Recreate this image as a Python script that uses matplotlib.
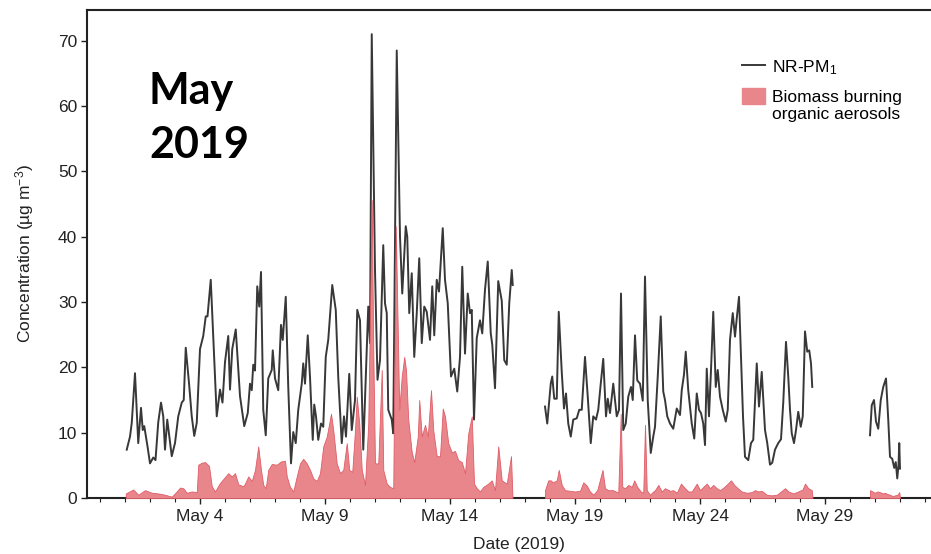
import matplotlib
matplotlib.use('Agg')
import matplotlib.pyplot as plt
import matplotlib.dates as mdates
from matplotlib.lines import Line2D
from matplotlib.patches import Patch, Rectangle
from matplotlib.legend_handler import HandlerPatch
from matplotlib.ticker import FuncFormatter
import numpy as np
import pandas as pd

plt.rcParams['font.family'] = ['Liberation Sans', 'DejaVu Sans']
plt.rcParams['mathtext.fontset'] = 'custom'
plt.rcParams['mathtext.rm'] = 'Liberation Sans'
plt.rcParams['mathtext.it'] = 'Liberation Sans:italic'
plt.rcParams['mathtext.bf'] = 'Liberation Sans:bold'

# NR-PM1: time as fractional day of May, value in ug m-3
pm_day_1 = [1.07, 1.2, 1.27, 1.4, 1.53, 1.64, 1.71, 1.77, 1.9, 2.0, 2.13, 2.22, 2.33, 2.44,
            2.53, 2.6, 2.69, 2.77, 2.87, 3.0, 3.13, 3.27, 3.35, 3.43, 3.56, 3.67, 3.77, 3.87,
            4.0, 4.13, 4.23, 4.3, 4.43, 4.53, 4.67, 4.8, 4.9, 5.0, 5.13, 5.2, 5.29, 5.43,
            5.6, 5.77, 5.91, 6.0, 6.07, 6.13, 6.2, 6.29, 6.37, 6.44, 6.53, 6.63, 6.73, 6.87,
            6.91, 7.0, 7.13, 7.24, 7.31, 7.43, 7.53, 7.64, 7.73, 7.83, 7.93, 8.07, 8.13, 8.2,
            8.31, 8.4, 8.51, 8.57, 8.64, 8.73, 8.84, 8.93, 9.03, 9.13, 9.29, 9.43, 9.53, 9.67,
            9.76, 9.84, 9.97, 10.07, 10.2, 10.29, 10.4, 10.53, 10.73, 10.8, 10.87, 11.0, 11.1,
            11.2, 11.33, 11.4, 11.47, 11.53, 11.67, 11.73, 11.87, 12.0, 12.09, 12.23, 12.29,
            12.37, 12.47, 12.57, 12.67, 12.77, 12.87, 12.97, 13.07, 13.2, 13.29, 13.37, 13.47,
            13.56, 13.71, 13.8, 13.91, 14.04, 14.17, 14.29, 14.4, 14.49, 14.6, 14.71, 14.8,
            14.87, 14.96, 15.07, 15.2, 15.29, 15.4, 15.51, 15.63, 15.69, 15.8, 15.93, 16.07,
            16.17, 16.27, 16.37, 16.47, 16.51]
pm_val_1 = [7.4, 9.4, 11.5, 19.1, 8.4, 13.8, 10.4, 11.0, 7.9, 5.3, 6.2, 5.8, 11.6, 14.6,
            12.5, 7.4, 12.0, 9.5, 6.4, 8.4, 12.5, 14.6, 15.0, 23.0, 17.6, 12.5, 9.5, 11.5,
            22.8, 24.8, 27.8, 27.8, 33.4, 24.8, 12.5, 16.6, 14.6, 20.8, 24.8, 16.6, 22.8, 25.8,
            15.6, 11.0, 13.0, 17.5, 16.5, 20.4, 19.5, 32.4, 29.3, 34.6, 13.5, 9.6, 18.3, 19.6,
            22.6, 18.3, 16.5, 26.5, 24.2, 30.8, 17.0, 5.3, 10.1, 8.4, 13.5, 17.5, 20.6, 17.5,
            24.9, 18.5, 8.9, 14.3, 12.5, 8.9, 11.4, 10.9, 21.6, 24.2, 32.6, 28.8, 18.5, 8.4,
            12.5, 9.4, 19.0, 10.4, 15.0, 28.8, 27.2, 7.4, 29.3, 23.7, 71.0, 34.9, 18.1,
            21.1, 38.7, 29.8, 28.3, 13.5, 12.0, 9.9, 68.5, 40.0, 31.3, 41.6, 40.0,
            28.3, 34.4, 21.6, 28.3, 36.7, 23.7, 29.3, 28.5, 24.2, 32.4, 24.9, 33.4,
            31.6, 41.3, 33.4, 29.8, 18.6, 19.8, 16.3, 21.6, 35.4, 22.1, 31.3, 28.3,
            28.8, 12.0, 24.5, 27.2, 25.2, 31.9, 36.2, 25.2, 23.5, 16.8, 33.2, 30.2,
            21.1, 20.4, 29.8, 34.9, 32.6]

pm_day_2 = [17.8, 17.89, 18.03, 18.09, 18.17, 18.27, 18.35, 18.47, 18.56, 18.64, 18.73, 18.83,
            18.93, 19.07, 19.17, 19.27, 19.4, 19.51, 19.63, 19.73, 19.84, 19.93, 20.03, 20.13,
            20.24, 20.31, 20.4, 20.53, 20.67, 20.76, 20.84, 20.93, 21.03, 21.13, 21.24, 21.31,
            21.4, 21.49, 21.6, 21.71, 21.8, 21.91, 22.03, 22.13, 22.2, 22.31, 22.43, 22.53,
            22.6, 22.69, 22.8, 22.93, 23.07, 23.2, 23.27, 23.36, 23.43, 23.53, 23.67, 23.77,
            23.87, 23.96, 24.04, 24.13, 24.2, 24.27, 24.36, 24.44, 24.53, 24.63, 24.71, 24.8,
            24.91, 25.03, 25.11, 25.2, 25.31, 25.4, 25.47, 25.56, 25.64, 25.72, 25.8, 25.93,
            26.04, 26.13, 26.27, 26.36, 26.47, 26.6, 26.69, 26.8, 26.89, 27.0, 27.13, 27.24,
            27.33, 27.44, 27.53, 27.6, 27.67, 27.76, 27.84, 27.93, 28.03, 28.11, 28.2, 28.29,
            28.37, 28.44, 28.49]
pm_val_2 = [14.0, 11.4, 17.5, 18.6, 15.2, 15.2, 28.5, 19.3, 13.7, 16.0, 11.4, 9.4,
            12.0, 12.2, 13.5, 13.5, 21.6, 15.5, 8.4, 12.5, 12.0, 13.5, 17.5, 21.3,
            12.5, 15.2, 13.0, 17.5, 12.5, 13.5, 31.3, 10.4, 11.4, 15.5, 17.0, 15.0,
            24.9, 18.0, 17.5, 14.9, 33.9, 14.9, 6.9, 9.4, 10.9, 18.6, 27.8, 16.3,
            15.0, 12.5, 11.4, 10.6, 13.7, 12.7, 16.5, 18.9, 22.4, 16.5, 11.4, 9.1,
            16.0, 13.5, 13.0, 11.4, 8.1, 19.8, 12.5, 19.6, 28.5, 17.0, 19.6, 15.5,
            13.5, 11.7, 13.5, 24.2, 28.3, 24.7, 27.5, 30.8, 21.6, 12.5, 6.3, 5.8,
            8.4, 8.9, 20.6, 14.0, 19.3, 10.4, 8.4, 5.1, 5.4, 7.4, 8.4, 9.0,
            14.6, 23.9, 18.6, 13.5, 9.9, 8.4, 10.4, 13.2, 10.9, 12.5, 25.5, 22.4,
            22.6, 20.6, 17.0]

pm_day_3 = [30.8, 30.87, 30.96, 31.04, 31.13, 31.23, 31.33, 31.44, 31.53, 31.6, 31.69, 31.77,
            31.83, 31.89, 31.94, 31.97, 32.0]
pm_val_3 = [9.6, 14.2, 15.0, 11.7, 10.6, 15.0, 17.0, 18.3, 12.0, 6.3, 6.0, 4.6,
            5.5, 3.0, 5.0, 8.4, 4.5]

# biomass burning organic aerosols
bb_day_1 = [1.03, 1.33, 1.53, 1.8, 2.07, 2.33, 2.6, 2.87, 3.07, 3.2, 3.33, 3.47, 3.67, 3.87,
            3.93, 4.07, 4.2, 4.36, 4.47, 4.6, 4.8, 5.13, 5.27, 5.4, 5.53, 5.73, 5.8, 5.93,
            6.07, 6.2, 6.33, 6.44, 6.53, 6.63, 6.73, 6.87, 7.07, 7.24, 7.4, 7.47, 7.6, 7.73,
            7.87, 8.0, 8.13, 8.27, 8.4, 8.53, 8.67, 8.8, 8.93, 9.07, 9.24, 9.33, 9.47, 9.6,
            9.73, 9.87, 9.97, 10.09, 10.2, 10.27, 10.37, 10.47, 10.6, 10.73, 10.87, 10.93,
            11.0, 11.13, 11.27, 11.33, 11.47, 11.6, 11.73, 11.83, 11.91, 11.97, 12.07, 12.17,
            12.24, 12.33, 12.47, 12.57, 12.71, 12.77, 12.87, 13.0, 13.11, 13.24, 13.33, 13.47,
            13.6, 13.71, 13.8, 13.93, 14.07, 14.2, 14.33, 14.47, 14.6, 14.73, 14.87, 14.96,
            15.07, 15.2, 15.33, 15.53, 15.67, 15.8, 15.93, 16.07, 16.27, 16.44, 16.5]
bb_val_1 = [0.7, 1.3, 0.5, 1.2, 0.8, 0.7, 0.5, 0.2, 1.0, 1.6, 1.5, 0.8, 1.0, 0.9,
            5.1, 5.4, 5.5, 4.9, 1.8, 1.0, 2.3, 3.8, 3.3, 3.8, 2.1, 1.8, 2.2, 3.3,
            2.6, 4.3, 7.9, 4.3, 2.0, 1.5, 4.3, 5.2, 5.1, 5.6, 5.7, 3.3, 1.7, 1.0,
            3.3, 5.3, 6.0, 5.3, 4.3, 3.0, 2.6, 3.8, 7.9, 9.4, 12.9, 10.4, 5.3, 3.8,
            4.3, 8.4, 4.3, 4.0, 10.4, 15.5, 11.4, 4.3, 2.0, 11.4, 45.6, 22.6,
            5.3, 5.3, 19.6, 4.3, 2.2, 1.7, 1.5, 41.6, 25.7, 13.5, 18.6, 21.6,
            19.6, 12.0, 7.0, 5.5, 9.4, 15.0, 9.4, 11.2, 9.4, 16.5, 10.4, 6.4,
            6.4, 13.7, 12.5, 8.4, 7.0, 7.2, 5.8, 5.5, 3.8, 9.9, 12.5, 2.2,
            1.5, 1.0, 1.7, 2.2, 2.7, 1.2, 7.9, 2.7, 2.2, 6.4, 0.0]

bb_day_2 = [17.8, 17.93, 18.03, 18.11, 18.27, 18.35, 18.47, 18.6, 18.8, 19.0, 19.2, 19.33,
            19.47, 19.6, 19.73, 19.89, 20.1, 20.2, 20.33, 20.53, 20.73, 20.83, 20.89, 21.0,
            21.13, 21.27, 21.37, 21.49, 21.63, 21.73, 21.8, 21.87, 22.0, 22.13, 22.2, 22.33,
            22.47, 22.6, 22.8, 22.93, 23.07, 23.24, 23.4, 23.53, 23.67, 23.87, 24.0, 24.13,
            24.27, 24.4, 24.53, 24.67, 24.8, 24.97, 25.11, 25.24, 25.37, 25.51, 25.67, 25.87,
            26.07, 26.2, 26.33, 26.47, 26.67, 26.87, 27.07, 27.24, 27.4, 27.53, 27.73, 27.93,
            28.1, 28.2, 28.33, 28.47, 28.5]
bb_val_2 = [1.2, 2.7, 2.7, 2.4, 2.7, 4.3, 2.0, 1.2, 1.1, 1.0, 1.1, 2.4,
            1.9, 1.0, 0.5, 1.2, 4.3, 1.5, 1.2, 1.2, 0.8, 12.9, 1.7, 1.5,
            2.0, 1.7, 2.7, 1.7, 1.0, 0.8, 11.2, 1.2, 0.5, 1.0, 1.2, 2.0,
            1.0, 1.5, 1.1, 1.2, 0.8, 2.2, 1.5, 1.0, 1.0, 2.2, 1.2, 1.7,
            2.2, 1.5, 2.0, 1.5, 1.2, 1.7, 2.2, 2.7, 2.0, 1.5, 1.0, 0.8,
            0.9, 1.2, 1.0, 1.1, 0.5, 0.4, 0.5, 1.0, 1.5, 1.0, 0.7, 1.0,
            1.3, 2.2, 1.5, 1.2, 0.0]

bb_day_3 = [30.8, 30.9, 31.0, 31.1, 31.2, 31.3, 31.4, 31.5, 31.6, 31.7, 31.8, 31.9, 31.97, 32.0]
bb_val_3 = [1.2, 1.0, 0.8, 1.0, 0.9, 0.7, 0.8, 0.6, 0.5, 0.3, 0.4, 0.5, 0.9, 0.0]


def to_dates(days):
    # fractional day of May -> timestamps
    return pd.Timestamp('2019-04-30') + pd.to_timedelta(np.asarray(days), unit='D')


def raised_patch(legend, orig_handle, xdescent, ydescent, width, height, fontsize):
    # line the swatch up with the first line of a two-line label
    return Rectangle((-xdescent, -ydescent + 0.55 * fontsize), width, height)


fig = plt.figure(figsize=(9.31, 5.54), dpi=100)
ax = fig.add_axes([87 / 931, 1 - 498 / 554, 864 / 931, 488 / 554])

line_col = '#383838'
fill_col = '#e8868b'
edge_col = '#e05c68'
txt_col = '#222222'
fs = 12.5

for d, v in [(pm_day_1, pm_val_1), (pm_day_2, pm_val_2), (pm_day_3, pm_val_3)]:
    ax.plot(to_dates(d), v, color=line_col, lw=1.4, zorder=2)

for d, v in [(bb_day_1, bb_val_1), (bb_day_2, bb_val_2), (bb_day_3, bb_val_3)]:
    ax.fill_between(to_dates(d), v, 0, facecolor=fill_col, edgecolor=edge_col,
                    lw=0.6, zorder=3)

ax.set_xlim(to_dates([-0.52])[0], to_dates([34.04])[0])
ax.set_ylim(0, 74.7)
ax.set_yticks(range(0, 80, 10))

ax.xaxis.set_major_locator(mdates.DayLocator(bymonthday=[4, 9, 14, 19, 24, 29]))
ax.xaxis.set_minor_locator(mdates.DayLocator())
ax.xaxis.set_major_formatter(FuncFormatter(lambda x, pos: 'May %d' % mdates.num2date(x).day))

ax.tick_params(axis='both', which='major', direction='out', length=4, width=1,
               labelsize=fs, colors=txt_col)
ax.tick_params(axis='x', which='minor', direction='out', length=3, width=0.8,
               colors=txt_col)
ax.tick_params(axis='x', pad=4)
ax.tick_params(axis='y', pad=3)

for side in ['left', 'bottom', 'top']:
    ax.spines[side].set_linewidth(1.5)
    ax.spines[side].set_color(txt_col)
ax.spines['right'].set_visible(False)

ax.set_xlabel('Date (2019)', fontsize=fs, color=txt_col, labelpad=9)
ax.set_ylabel(r'Concentration (µg m$^{\mathregular{-3}}$)', fontsize=fs,
              color=txt_col, labelpad=16)

handles = [Line2D([], [], color=line_col, lw=1.4),
           Patch(facecolor=fill_col, edgecolor=fill_col)]
labels = ['NR-PM$_{\\mathregular{1}}$', 'Biomass burning\norganic aerosols']
ax.legend(handles, labels, loc='upper left', bbox_to_anchor=(742 / 931, 1 - 58 / 554),
          bbox_transform=fig.transFigure, frameon=False, fontsize=fs,
          handlelength=1.3, handleheight=1.05, handletextpad=0.45, labelspacing=0.75,
          borderaxespad=0, borderpad=0,
          handler_map={Patch: HandlerPatch(patch_func=raised_patch)})

fig.text(149 / 931, 1 - 71 / 554, 'May\n2019', fontsize=31, fontweight='bold',
         family=['Lato', 'DejaVu Sans'], va='top', ha='left', linespacing=1.42)

fig.savefig('out.png', dpi=100)
